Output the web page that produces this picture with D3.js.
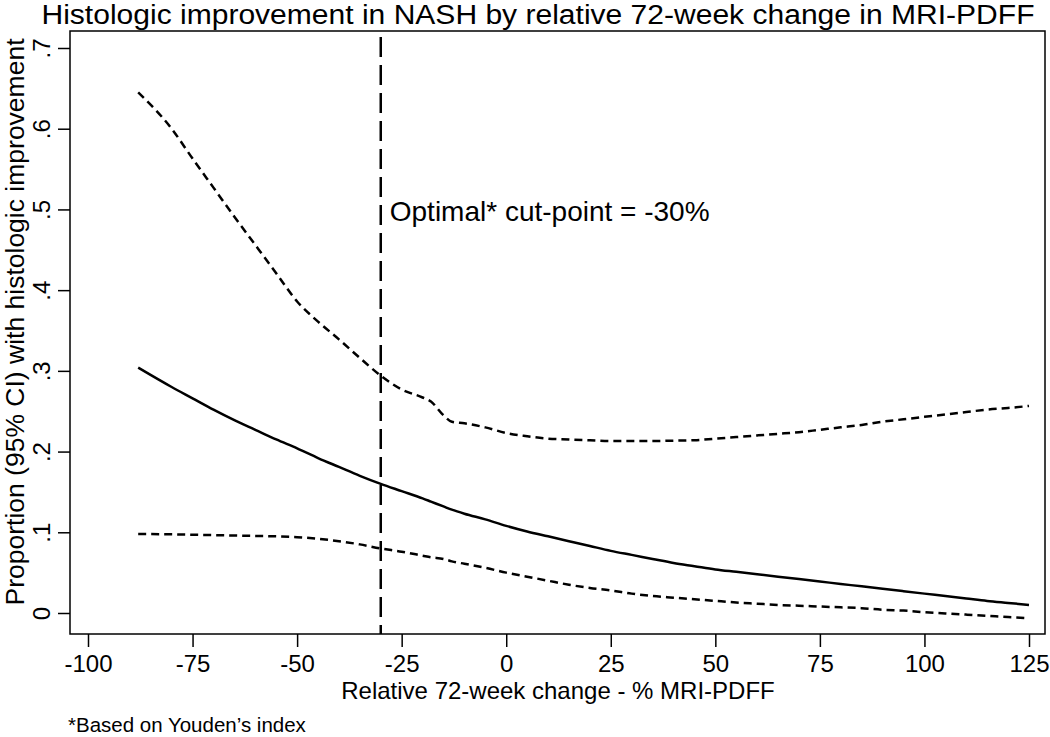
<!DOCTYPE html>
<html>
<head>
<meta charset="utf-8">
<script src="https://cdn.jsdelivr.net/npm/d3@7"></script>
<style>
  body { margin: 0; background: #fff; }
  text { font-family: "Liberation Sans", Arial, sans-serif; fill: #000; }
</style>
</head>
<body>
<script>
// relative 72-week change in MRI-PDFF (%)
let xChange = [-88, -80, -75, -70, -65, -60, -55, -50, -45, -40, -35, -30, -25, -20, -18, -15, -13, -10, -5, 0,
  5, 10, 15, 20, 25, 30, 35, 40, 45, 50, 55, 60, 65, 70, 75, 80, 85, 90, 95, 100, 105, 110, 115, 120, 125];

// predicted proportion with histologic improvement
let estimate = [0.304, 0.280, 0.266, 0.252, 0.239, 0.227, 0.215, 0.204, 0.192, 0.181, 0.170, 0.160, 0.151, 0.142, 0.138, 0.132, 0.128, 0.123, 0.116, 0.108,
  0.101, 0.095, 0.089, 0.083, 0.077, 0.072, 0.067, 0.062, 0.058, 0.054, 0.051, 0.048, 0.045, 0.042, 0.039, 0.036, 0.033, 0.030, 0.027, 0.024, 0.021, 0.018, 0.015, 0.0125, 0.010];

let upperCI = [0.645, 0.600, 0.563, 0.527, 0.491, 0.456, 0.421, 0.386, 0.361, 0.339, 0.316, 0.294, 0.277, 0.267, 0.262, 0.245, 0.237, 0.235, 0.230, 0.223,
  0.219, 0.216, 0.215, 0.214, 0.213, 0.213, 0.213, 0.2135, 0.214, 0.216, 0.218, 0.220, 0.222, 0.224, 0.227, 0.230, 0.233, 0.237, 0.240, 0.243, 0.246, 0.249, 0.252, 0.254, 0.2565];

let lowerCI = [0.098, 0.0975, 0.097, 0.0965, 0.096, 0.0955, 0.095, 0.094, 0.092, 0.089, 0.085, 0.080, 0.076, 0.071, 0.069, 0.067, 0.064, 0.061, 0.056, 0.050,
  0.045, 0.040, 0.035, 0.031, 0.028, 0.024, 0.021, 0.019, 0.017, 0.015, 0.013, 0.0115, 0.010, 0.009, 0.008, 0.007, 0.006, 0.004, 0.003, 0.001, -0.0005, -0.002, -0.0035, -0.005, -0.0065];

let xTicks = [-100, -75, -50, -25, 0, 25, 50, 75, 100, 125];
let yTicks = [0, 0.1, 0.2, 0.3, 0.4, 0.5, 0.6, 0.7];
let cutPoint = -30;

let svg = d3.select("body").append("svg")
  .attr("width", 1050)
  .attr("height", 737);

let x = d3.scaleLinear().domain([-100, 125]).range([88, 1029]);
let y = d3.scaleLinear().domain([0, 0.7]).range([613, 48]);

let box = { left: 70, right: 1045, top: 31, bottom: 634 };

// title
svg.append("text")
  .attr("x", 538)
  .attr("y", 24)
  .attr("text-anchor", "middle")
  .style("font-size", "27px")
  .attr("textLength", 993)
  .attr("lengthAdjust", "spacingAndGlyphs")
  .text("Histologic improvement in NASH by relative 72-week change in MRI-PDFF");

// plot frame
svg.append("rect")
  .attr("x", box.left)
  .attr("y", box.top)
  .attr("width", box.right - box.left)
  .attr("height", box.bottom - box.top)
  .attr("fill", "none")
  .attr("stroke", "#000")
  .attr("stroke-width", 1.5);

// x axis
let xAxis = svg.append("g")
  .attr("transform", `translate(0,${box.bottom})`)
  .call(d3.axisBottom(x).tickValues(xTicks).tickSize(13).tickPadding(8).tickSizeOuter(0)
    .tickFormat(d => String(d)));
xAxis.select(".domain").remove();
xAxis.selectAll("line").attr("stroke-width", 1.5);
xAxis.selectAll("text").style("font-size", "24px").attr("fill", "#000");

// y axis, labels turned like the original
let yAxis = svg.append("g")
  .attr("transform", `translate(${box.left},0)`)
  .call(d3.axisLeft(y).tickValues(yTicks).tickSize(12).tickSizeOuter(0)
    .tickFormat(d => d === 0 ? "0" : d3.format(".1f")(d).replace("0.", ".")));
yAxis.select(".domain").remove();
yAxis.selectAll("line").attr("stroke-width", 1.5);
yAxis.selectAll("text")
  .attr("x", null)
  .attr("dy", null)
  .attr("text-anchor", "middle")
  .attr("transform", "translate(-20,0) rotate(-90)")
  .style("font-size", "24px")
  .attr("fill", "#000");

// axis titles
svg.append("text")
  .attr("x", 558)
  .attr("y", 699)
  .attr("text-anchor", "middle")
  .style("font-size", "24px")
  .text("Relative 72-week change - % MRI-PDFF");

svg.append("text")
  .attr("transform", "translate(24,322) rotate(-90)")
  .attr("text-anchor", "middle")
  .style("font-size", "26.5px")
  .text("Proportion (95% CI) with histologic improvement");

// footnote
svg.append("text")
  .attr("x", 68)
  .attr("y", 732)
  .style("font-size", "20.5px")
  .text("*Based on Youden\u2019s index");

// curves
let rows = xChange.map((d, i) => ({ x: d, est: estimate[i], lo: lowerCI[i], hi: upperCI[i] }));

let line = key => d3.line()
  .x(d => x(d.x))
  .y(d => y(d[key]))
  .curve(d3.curveMonotoneX);

svg.append("path")
  .datum(rows)
  .attr("d", line("hi"))
  .attr("fill", "none")
  .attr("stroke", "#000")
  .attr("stroke-width", 2.5)
  .attr("stroke-dasharray", "8,5");

svg.append("path")
  .datum(rows)
  .attr("d", line("lo"))
  .attr("fill", "none")
  .attr("stroke", "#000")
  .attr("stroke-width", 2.5)
  .attr("stroke-dasharray", "8,5");

svg.append("path")
  .datum(rows)
  .attr("d", line("est"))
  .attr("fill", "none")
  .attr("stroke", "#000")
  .attr("stroke-width", 2.5);

// optimal cut-point
svg.append("line")
  .attr("x1", x(cutPoint))
  .attr("x2", x(cutPoint))
  .attr("y1", box.top + 6)
  .attr("y2", box.bottom)
  .attr("stroke", "#000")
  .attr("stroke-width", 2.5)
  .attr("stroke-dasharray", "20,8");

svg.append("text")
  .attr("x", x(cutPoint) + 9)
  .attr("y", 221)
  .style("font-size", "28px")
  .text("Optimal* cut-point = -30%");
</script>
</body>
</html>
